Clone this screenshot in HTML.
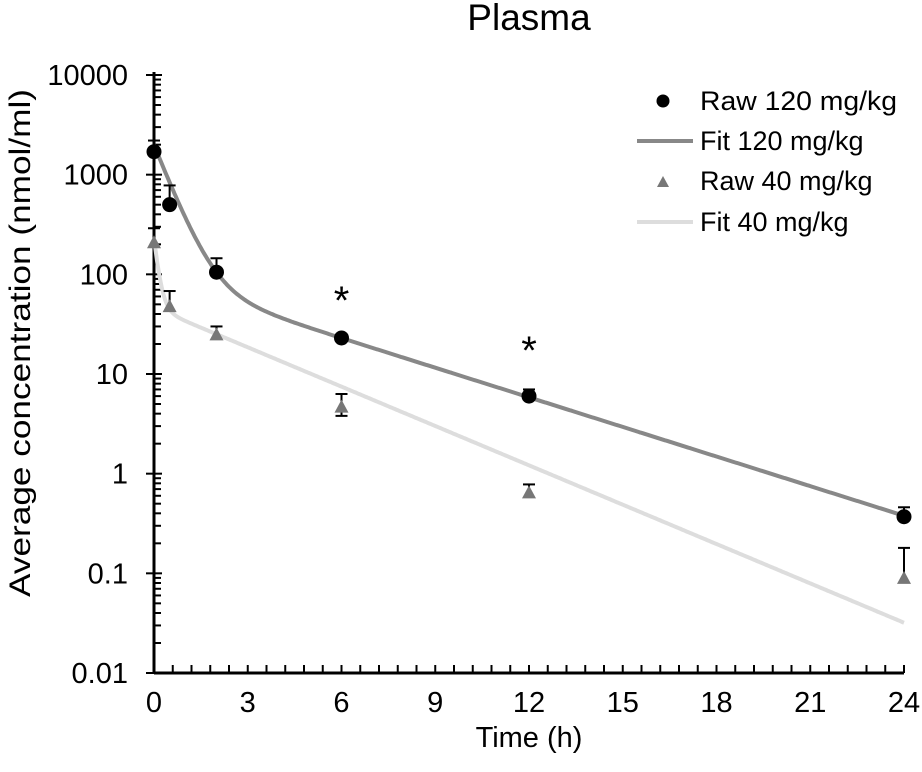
<!DOCTYPE html>
<html><head><meta charset="utf-8"><style>
html,body{margin:0;padding:0;background:#fff}
svg{display:block;font-family:"Liberation Sans",Arial,sans-serif}
</style></head><body>
<svg id="chart" width="922" height="772" viewBox="0 0 922 772" xmlns="http://www.w3.org/2000/svg">
<text x="529" y="30" font-size="37" text-anchor="middle">Plasma</text>
<text transform="translate(30,343) rotate(-90)" font-size="30" text-anchor="middle" textLength="508" lengthAdjust="spacingAndGlyphs">Average concentration (nmol/ml)</text>
<text x="529" y="747" font-size="29" text-anchor="middle">Time (h)</text>
<g id="axes"></g>
<g id="marks"></g>
<g id="legend">
  <circle cx="663" cy="101" r="6.5" fill="#000"/>
  <text x="700" y="110" font-size="27" textLength="197" lengthAdjust="spacingAndGlyphs">Raw 120 mg/kg</text>
  <line x1="637" y1="141" x2="693" y2="141" stroke="#888" stroke-width="4"/>
  <text x="700" y="150" font-size="27">Fit 120 mg/kg</text>
  <polygon points="663,176 669,187 657,187" fill="#777"/>
  <text x="700" y="190" font-size="27">Raw 40 mg/kg</text>
  <line x1="637" y1="222" x2="693" y2="222" stroke="#ddd" stroke-width="4"/>
  <text x="700" y="231" font-size="27">Fit 40 mg/kg</text>
</g>
</svg>
<script>
const times = [0, 0.5, 2, 6, 12, 24];
const raw120 = [1700, 500, 105, 23, 6, 0.37];
const raw120Upper = [2200, 780, 145, 23, 7, 0.46];
const raw40 = [210, 48, 25, 4.7, 0.65, 0.09];
const raw40Upper = [290, 68, 30, 6.3, 0.78, 0.18];
const raw40Lower = [210, 48, 25, 3.8, 0.65, 0.09];
const fit120Params = [1900, 1.84, 90, 0.228];
const fit40Params = [185, 7.2, 46, 0.303];
const xTicks = [0, 3, 6, 9, 12, 15, 18, 21, 24];
const yTicks = [0.01, 0.1, 1, 10, 100, 1000, 10000];
const yTickLabels = ["0.01", "0.1", "1", "10", "100", "1000", "10000"];
const sigTimes = [6, 12];
const sigValues = [70, 22];

const NS = "http://www.w3.org/2000/svg";
const X0 = 154, X1 = 904, Y0 = 673, Y1 = 75;
const xS = t => X0 + (t / 24) * (X1 - X0);
const yS = v => Y0 - (Math.log10(v) + 2) / 6 * (Y0 - Y1);
function mk(tag, attrs, parent) {
  const e = document.createElementNS(NS, tag);
  for (const k in attrs) e.setAttribute(k, attrs[k]);
  parent.appendChild(e);
  return e;
}
const axes = document.getElementById('axes');
const marks = document.getElementById('marks');
let e;
e = mk('line', {x1: X0, y1: Y0, x2: X1, y2: Y0, stroke: '#000', 'stroke-width': 3}, axes);


e = mk('line', {x1: X0, y1: Y0 + 1, x2: X0, y2: Y1 - 3, stroke: '#000', 'stroke-width': 3}, axes);


for (let t = 0.6; t <= 24.01; t += 0.6) {
  e = mk('line', {x1: xS(t), y1: Y0, x2: xS(t), y2: Y0 - 8, stroke: '#000', 'stroke-width': 2}, axes);
  
  
}
xTicks.forEach(t => {
  e = mk('text', {x: xS(t), y: 712, 'font-size': 29, 'text-anchor': 'middle'}, axes);
  e.textContent = t;
  
  
});
yTicks.forEach((v, i) => {
  const y = yS(v);
  e = mk('line', {x1: X0 - 8, y1: y, x2: X0 + 8, y2: y, stroke: '#000', 'stroke-width': 2}, axes);
  
  
  e = mk('text', {x: 128, y: y + 10, 'font-size': 29, 'text-anchor': 'end'}, axes);
  e.textContent = yTickLabels[i];
  
  
  if (i < yTicks.length - 1) {
    for (let m = 2; m <= 9; m++) {
      const ym = yS(v * m);
      e = mk('line', {x1: X0, y1: ym, x2: X0 + 7, y2: ym, stroke: '#000', 'stroke-width': 2}, axes);
      
      
    }
  }
});
function fitPath(p) {
  let d = '';
  for (let i = 0; i <= 480; i++) {
    const t = i * 0.05;
    const v = p[0] * Math.exp(-p[1] * t) + p[2] * Math.exp(-p[3] * t);
    d += (i ? 'L' : 'M') + xS(t).toFixed(1) + ',' + yS(v).toFixed(1);
  }
  return d;
}
e = mk('path', {d: fitPath(fit40Params), fill: 'none', stroke: '#ddd', 'stroke-width': 4}, marks);


e = mk('path', {d: fitPath(fit120Params), fill: 'none', stroke: '#888', 'stroke-width': 4}, marks);


function errBar(x, yv, up, lo, name) {
  const g = mk('g', {stroke: '#000', 'stroke-width': 2}, marks);
  
  
  mk('line', {x1: x, y1: yS(lo), x2: x, y2: yS(up)}, g);
  mk('line', {x1: x - 6, y1: yS(up), x2: x + 6, y2: yS(up)}, g);
  if (lo < yv) mk('line', {x1: x - 6, y1: yS(lo), x2: x + 6, y2: yS(lo)}, g);
}
times.forEach((t, i) => {
  const x = xS(t);
  errBar(x, raw40[i], raw40Upper[i], raw40Lower[i], 'error-bar-40');
  const y = yS(raw40[i]);
  e = mk('polygon', {points: `${x},${y - 7} ${x + 7},${y + 6} ${x - 7},${y + 6}`, fill: '#777'}, marks);
  
  
});
times.forEach((t, i) => {
  const x = xS(t);
  errBar(x, raw120[i], raw120Upper[i], raw120[i], 'error-bar-120');
  e = mk('circle', {cx: x, cy: yS(raw120[i]), r: 7.5, fill: '#000'}, marks);
  
  
});
sigTimes.forEach((t, i) => {
  e = mk('text', {x: xS(t), y: yS(sigValues[i]) + 24, 'font-size': 40, 'text-anchor': 'middle'}, marks);
  e.textContent = '*';
  
  
});
</script>
</body></html>
